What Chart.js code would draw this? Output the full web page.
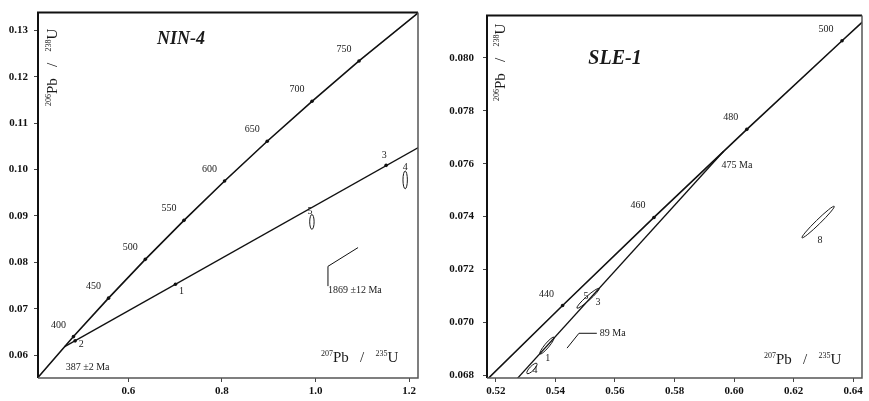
<!DOCTYPE html>
<html>
<head>
<meta charset="utf-8">
<script src="https://cdn.jsdelivr.net/npm/chart.js@4.4.0/dist/chart.umd.min.js"></script>
<style>
  html, body { margin: 0; padding: 0; background: #fff; }
  #wrap { position: relative; width: 869px; height: 401px; }
  #c1 { position: absolute; left: 0; top: 0; }
  #c2 { position: absolute; left: 430px; top: 0; }
</style>
</head>
<body>
<div id="wrap">
  <canvas id="c1" width="430" height="401"></canvas>
  <canvas id="c2" width="439" height="401"></canvas>
</div>
<script>
// ---- NIN-4 (left) ----
// concordia points (207Pb/235U, 206Pb/238U)
var ninAges = ['', '400', '450', '500', '550', '600', '650', '700', '750', ''];
var ninConcX = [0.3978, 0.4828, 0.5577, 0.6363, 0.7189, 0.8057, 0.8968, 0.9925, 1.0930, 1.2424];
var ninConcY = [0.05416, 0.06402, 0.07230, 0.08065, 0.08906, 0.09754, 0.10609, 0.11470, 0.12338, 0.13564];
// discordia 387 Ma -> 1869 Ma
var ninDiscX = [0.4640, 5.301];
var ninDiscY = [0.06187, 0.3363];
// analyses
var ninSpotNames = ['1', '2', '3'];
var ninSpotX = [0.7007, 0.4864, 1.1509];
var ninSpotY = [0.0753, 0.0631, 0.1009];
var ninEllNames = ['4', '5'];
var ninEllX = [[1.1916, 1.1916], [0.9923, 0.9923]];
var ninEllY = [[0.09936, 0.09617], [0.0900, 0.08745]];
// little sketch of the upper intercept
var ninInsetX = [1.0266, 1.0266, 1.0909];
var ninInsetY = [0.07489, 0.07915, 0.08319];
var ninTicksX = [0.6, 0.8, 1.0, 1.2];
var ninTicksY = [0.06, 0.07, 0.08, 0.09, 0.10, 0.11, 0.12, 0.13];

// ---- SLE-1 (right) ----
var sleAges = ['', '440', '460', '480', '500', ''];
var sleConcX = [0.5123, 0.5424, 0.5731, 0.6043, 0.6363, 0.6525];
var sleConcY = [0.06732, 0.07064, 0.07397, 0.07730, 0.08065, 0.08233];
// discordia 89 Ma -> 475 Ma
var sleDiscX = [0.0916, 0.5965];
var sleDiscY = [0.0139, 0.07647];
var sleEllNames = ['1', '4', '5', '8'];
var sleEllX = [[0.5351, 0.5392], [0.5308, 0.5334], [0.5476, 0.5543], [0.6232, 0.6333]];
var sleEllY = [[0.06885, 0.06940], [0.06811, 0.06841], [0.07058, 0.07125], [0.07324, 0.07435]];
var sleLeadX = [0.5439, 0.5479, 0.5539];
var sleLeadY = [0.06903, 0.06959, 0.06959];
var sleTicksX = [0.52, 0.54, 0.56, 0.58, 0.60, 0.62, 0.64];
var sleTicksY = [0.068, 0.070, 0.072, 0.074, 0.076, 0.078, 0.080];

var SERIF = '"Liberation Serif", "DejaVu Serif", serif';
var pb238 = [['206', 1], ['Pb   /   ', 0], ['238', 1], ['U', 0]];
var pb235 = [['207', 1], ['Pb   /   ', 0], ['235', 1], ['U', 0]];

function pts(xs, ys) {
  return xs.map(function (x, i) { return { x: x, y: ys[i] }; });
}

function isoLabel(ctx, x, y, parts, size) {
  var cx = x;
  parts.forEach(function (p) {
    ctx.font = (p[1] ? Math.round(size * 0.55) : size) + 'px ' + SERIF;
    ctx.fillText(p[0], cx, p[1] ? y - size * 0.4 : y);
    cx += ctx.measureText(p[0]).width;
  });
}

function overlay(opts) {
  return {
    id: 'overlay',
    afterDatasetsDraw: function (chart) {
      var ctx = chart.ctx, a = chart.chartArea;
      var sx = chart.scales.x, sy = chart.scales.y;
      function px(v) { return sx.getPixelForValue(v); }
      function py(v) { return sy.getPixelForValue(v); }
      ctx.save();
      ctx.fillStyle = '#1a1a1a';
      ctx.strokeStyle = '#1a1a1a';

      // error ellipses
      ctx.lineWidth = 1;
      opts.ellX.forEach(function (xs, i) {
        var x0 = px(xs[0]), y0 = py(opts.ellY[i][0]);
        var x1 = px(xs[1]), y1 = py(opts.ellY[i][1]);
        var len = Math.hypot(x1 - x0, y1 - y0);
        ctx.beginPath();
        ctx.ellipse((x0 + x1) / 2, (y0 + y1) / 2, len / 2 + 1.5, 2.2,
          Math.atan2(y1 - y0, x1 - x0), 0, Math.PI * 2);
        ctx.stroke();
        var off = opts.ellOff[i];
        ctx.font = '10px ' + SERIF;
        ctx.textAlign = 'center';
        ctx.fillText(opts.ellNames[i], x0 + off[0], y0 + off[1]);
      });

      // concordia age labels
      ctx.font = '10px ' + SERIF;
      ctx.textAlign = 'center';
      opts.ages.forEach(function (t, i) {
        if (!t) return;
        ctx.fillText(t, px(opts.concX[i]) + opts.ageOff[0], py(opts.concY[i]) + opts.ageOff[1]);
      });

      opts.extra(ctx, a, px, py);

      // frame
      ctx.lineWidth = 2;
      ctx.strokeStyle = '#111';
      ctx.beginPath();
      ctx.moveTo(a.left, a.bottom);
      ctx.lineTo(a.left, a.top);
      ctx.lineTo(a.right, a.top);
      ctx.stroke();
      ctx.lineWidth = 1.5;
      ctx.strokeStyle = '#555';
      ctx.beginPath();
      ctx.moveTo(a.right, a.top);
      ctx.lineTo(a.right, a.bottom);
      ctx.lineTo(a.left, a.bottom);
      ctx.stroke();
      ctx.restore();
    }
  };
}

function axis(range, ticks, dec, isY, size, pad) {
  return {
    type: 'linear',
    min: range[0],
    max: range[1],
    afterBuildTicks: function (s) { s.ticks = ticks.map(function (v) { return { value: v }; }); },
    afterFit: function (s) { if (isY) s.width = size; else s.height = size; },
    grid: { drawOnChartArea: false, drawTicks: true, tickLength: 4, color: '#444' },
    border: { display: false },
    ticks: {
      padding: pad,
      color: '#111',
      font: { family: SERIF, size: 11, weight: 'bold' },
      callback: function (v) { return Number(v).toFixed(dec); }
    }
  };
}

function makeChart(id, datasets, scales, padding, plugin) {
  return new Chart(document.getElementById(id), {
    type: 'scatter',
    data: { datasets: datasets },
    options: {
      responsive: false,
      animation: false,
      layout: { padding: padding },
      plugins: { legend: { display: false }, tooltip: { enabled: false } },
      scales: scales
    },
    plugins: [plugin]
  });
}

function line(data, w, radius) {
  return {
    data: data, showLine: true, borderColor: '#111', borderWidth: w,
    pointRadius: radius, pointBackgroundColor: '#111', pointBorderWidth: 0
  };
}

// left chart
makeChart('c1', [
  line(pts(ninConcX, ninConcY), 1.6, ninAges.map(function (t) { return t ? 1.8 : 0; })),
  line(pts(ninDiscX, ninDiscY), 1.4, 0),
  line(pts(ninInsetX, ninInsetY), 1, 0),
  { data: pts(ninSpotX, ninSpotY), pointRadius: 1.8, pointBackgroundColor: '#111', borderWidth: 0 }
], {
  x: axis([0.407, 1.219], ninTicksX, 1, false, 23, 3),
  y: axis([0.0551, 0.1338], ninTicksY, 2, true, 38, 6)
}, { left: 0, top: 6, right: 12, bottom: 0 }, overlay({
  ages: ninAges, concX: ninConcX, concY: ninConcY, ageOff: [-15, -9],
  ellX: ninEllX, ellY: ninEllY, ellNames: ninEllNames, ellOff: [[0, -3], [-2, -2]],
  extra: function (ctx, a, px, py) {
    ctx.font = '10px ' + SERIF;
    ctx.textAlign = 'center';
    var spotOff = [[6, 10], [6, 6], [-2, -7]];
    ninSpotNames.forEach(function (n, i) {
      ctx.fillText(n, px(ninSpotX[i]) + spotOff[i][0], py(ninSpotY[i]) + spotOff[i][1]);
    });
    ctx.textAlign = 'left';
    ctx.font = '10px ' + SERIF;
    ctx.fillText('387 \u00b12 Ma', px(ninDiscX[0]) + 1, py(ninDiscY[0]) + 23);
    ctx.fillText('1869 \u00b112 Ma', px(ninInsetX[0]), py(ninInsetY[0]) + 7);
    ctx.textAlign = 'center';
    ctx.font = 'italic bold 18px ' + SERIF;
    ctx.fillText('NIN-4', a.left + 143, a.top + 31);
    ctx.textAlign = 'left';
    isoLabel(ctx, a.right - 97, a.bottom - 16, pb235, 15);
    ctx.save();
    ctx.translate(a.left + 19, 106);
    ctx.rotate(-Math.PI / 2);
    isoLabel(ctx, 0, 0, pb238, 15);
    ctx.restore();
  }
}));

// right chart
makeChart('c2', [
  line(pts(sleConcX, sleConcY), 1.6, sleAges.map(function (t) { return t ? 1.8 : 0; })),
  line(pts(sleDiscX, sleDiscY), 1.3, 0),
  line(pts(sleLeadX, sleLeadY), 1, 0)
], {
  x: axis([0.517, 0.643], sleTicksX, 2, false, 23, 3),
  y: axis([0.0679, 0.0816], sleTicksY, 3, true, 57, 9)
}, { left: 0, top: 7, right: 7, bottom: 0 }, overlay({
  ages: sleAges, concX: sleConcX, concY: sleConcY, ageOff: [-16, -9],
  ellX: sleEllX, ellY: sleEllY, ellNames: sleEllNames,
  ellOff: [[7, 8], [7, 1], [8, -8], [17, 6]],
  extra: function (ctx, a, px, py) {
    ctx.textAlign = 'center';
    ctx.font = '10px ' + SERIF;
    ctx.fillText('3', px(sleEllX[2][0]) + 20, py(sleEllY[2][0]) - 2);
    ctx.textAlign = 'left';
    ctx.font = '10px ' + SERIF;
    ctx.fillText('475 Ma', px(sleDiscX[1]) - 2, py(sleDiscY[1]) + 17);
    ctx.fillText('89 Ma', px(sleLeadX[2]) + 3, py(sleLeadY[2]) + 3);
    ctx.textAlign = 'center';
    ctx.font = 'italic bold 20px ' + SERIF;
    ctx.fillText('SLE-1', a.left + 128, a.top + 48);
    ctx.textAlign = 'left';
    isoLabel(ctx, a.right - 98, a.bottom - 14, pb235, 15);
    ctx.save();
    ctx.translate(a.left + 18, 101);
    ctx.rotate(-Math.PI / 2);
    isoLabel(ctx, 0, 0, pb238, 15);
    ctx.restore();
  }
}));
</script>
</body>
</html>
